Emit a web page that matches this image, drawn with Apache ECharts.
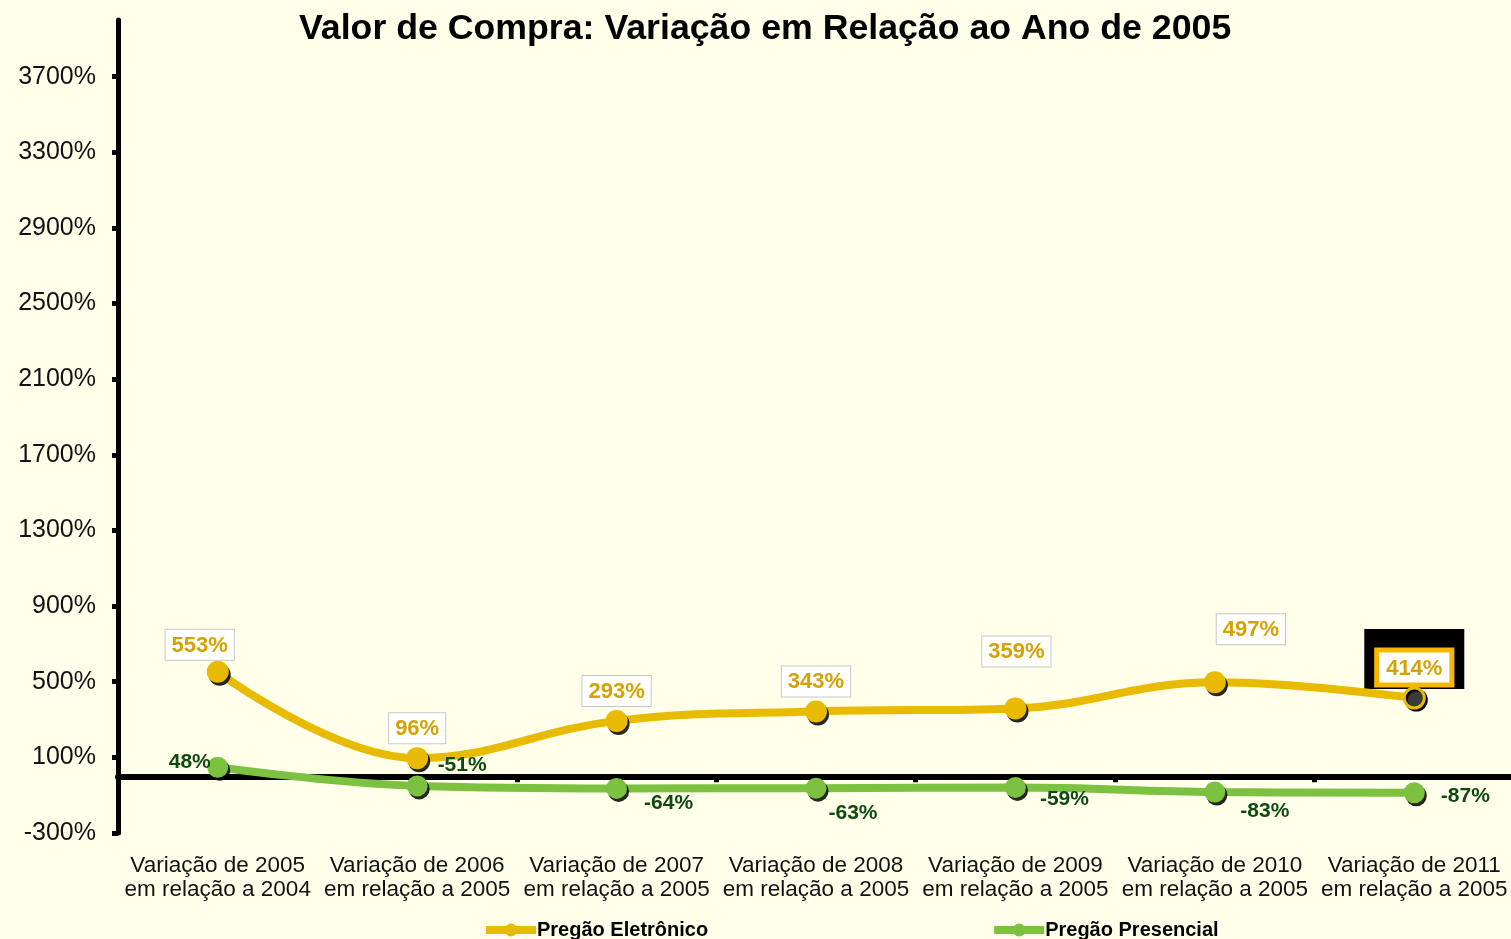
<!DOCTYPE html>
<html lang="pt">
<head>
<meta charset="UTF-8">
<title>Valor de Compra</title>
<style>
  html, body {margin:0; padding:0; background:#FFFFEA; overflow:hidden}
  #chart {width:1520px; height:939px}
</style>
<script src="https://cdn.jsdelivr.net/npm/echarts@6/dist/echarts.min.js"></script>
</head>
<body>
<div id="chart"></div>
<script>
const categories = [
  'Variação de 2005\nem relação a 2004',
  'Variação de 2006\nem relação a 2005',
  'Variação de 2007\nem relação a 2005',
  'Variação de 2008\nem relação a 2005',
  'Variação de 2009\nem relação a 2005',
  'Variação de 2010\nem relação a 2005',
  'Variação de 2011\nem relação a 2005'
]
const eletronico = [553, 96, 293, 343, 359, 497, 414]
const presencial = [48, -51, -64, -63, -59, -83, -87]
const yTicks = [-300, 100, 500, 900, 1300, 1700, 2100, 2500, 2900, 3300, 3700]

// label placement, tuned by eye
const eOffsets = [[-18, 3], [0, 0], [0, 0], [0, 0], [1, -27], [36, -23], [0, 0]]
const pOffsets = [[-28, -5], [45, -21], [52, 15], [37, 25], [49, 12], [50, 19], [51, 3]]

const GOLD = '#E8BB00'
const GREEN = '#7CC13F'
const FONT = 'Liberation Sans, Arial'

let chart = echarts.init(document.getElementById('chart'))

let eLabel = {
  show: true,
  position: 'top',
  distance: 4,
  formatter: '{c}%',
  color: '#D6A200',
  fontFamily: FONT,
  fontWeight: 'bold',
  fontSize: 22,
  backgroundColor: '#fff',
  borderColor: '#C8C8C8',
  borderWidth: 1,
  padding: [5, 6, 3, 6]
}

let option = {
  backgroundColor: '#FFFFEA',
  animation: false,
  title: {
    text: 'Valor de Compra: Variação em Relação ao Ano de 2005',
    left: 294,
    top: 6,
    textStyle: {fontFamily: FONT, fontWeight: 'bold', fontSize: 35.7, color: '#000'}
  },
  legend: {
    left: 477,
    top: 915,
    itemGap: 282,
    itemWidth: 50,
    itemHeight: 16,
    lineStyle: {width: 8},
    textStyle: {fontFamily: FONT, fontWeight: 'bold', fontSize: 20, color: '#000', padding: [0, 0, 0, -4]},
    data: ['Pregão Eletrônico', 'Pregão Presencial']
  },
  grid: {left: 118, top: 20, right: 6, bottom: 106, containLabel: false},
  xAxis: [
    {
      type: 'category',
      data: categories,
      position: 'bottom',
      axisLine: {show: false, onZero: false},
      axisTick: {show: false},
      axisLabel: {
        interval: 0,
        margin: 21,
        fontFamily: FONT,
        fontSize: 22.5,
        lineHeight: 24,
        color: '#111'
      }
    },
    {
      type: 'category',
      data: categories,
      position: 'bottom',
      axisLine: {show: true, onZero: true, lineStyle: {color: '#000', width: 6}},
      axisTick: {show: true, interval: 0, length: 6, lineStyle: {color: '#000', width: 5}},
      axisLabel: {show: false}
    }
  ],
  yAxis: {
    type: 'value',
    min: -300,
    max: 4000,
    splitLine: {show: false},
    axisLine: {show: true, lineStyle: {color: '#000', width: 5}},
    axisTick: {show: true, length: 6, customValues: yTicks, lineStyle: {color: '#000', width: 5}},
    axisLabel: {
      customValues: yTicks,
      formatter: v => v + '%',
      margin: 22,
      fontFamily: FONT,
      fontSize: 25,
      color: '#111'
    }
  },
  series: [
    {
      name: 'Pregão Eletrônico',
      type: 'line',
      smooth: 0.4,
      symbol: 'circle',
      symbolSize: 22,
      z: 3,
      lineStyle: {color: GOLD, width: 8},
      itemStyle: {color: GOLD, shadowColor: 'rgba(0,0,0,0.85)', shadowOffsetX: 2, shadowOffsetY: 3, shadowBlur: 0},
      label: eLabel,
      data: eletronico.map((v, i) => {
        let item = {value: v, label: {offset: eOffsets[i]}}
        if (i === eletronico.length - 1) {
          item.symbolSize = 20
          item.itemStyle = {color: '#3a3a3a', borderColor: GOLD, borderWidth: 3, shadowColor: '#000', shadowOffsetX: 2, shadowOffsetY: 2}
          item.label = {
            offset: [0, 0],
            borderColor: '#F4B800',
            borderWidth: 5,
            padding: [5, 7, 3, 7]
          }
        }
        return item
      }),
      markPoint: {
        silent: true,
        symbol: 'rect',
        symbolSize: [100, 60],
        symbolOffset: [0, -39],
        itemStyle: {color: '#000'},
        label: {show: false},
        z: 1,
        data: [{coord: [eletronico.length - 1, eletronico[eletronico.length - 1]]}]
      }
    },
    {
      name: 'Pregão Presencial',
      type: 'line',
      smooth: 0.4,
      symbol: 'circle',
      symbolSize: 21,
      z: 3,
      lineStyle: {color: GREEN, width: 8},
      itemStyle: {color: GREEN, shadowColor: 'rgba(0,0,0,0.85)', shadowOffsetX: 2, shadowOffsetY: 3, shadowBlur: 0},
      label: {
        show: true,
        position: 'inside',
        formatter: '{c}%',
        color: '#0E4A10',
        fontFamily: FONT,
        fontWeight: 'bold',
        fontSize: 21
      },
      data: presencial.map((v, i) => ({value: v, label: {offset: pOffsets[i]}}))
    }
  ]
}

chart.setOption(option)
</script>
</body>
</html>
